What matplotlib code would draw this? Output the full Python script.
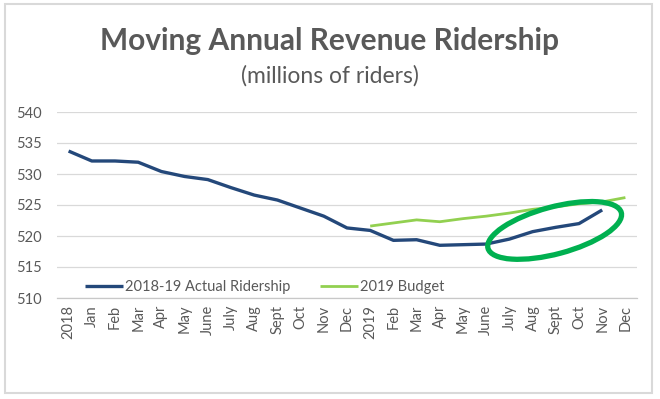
import numpy as np
import matplotlib; matplotlib.use('Agg')
import matplotlib.pyplot as plt
from matplotlib.patches import Ellipse, Rectangle
from matplotlib.transforms import IdentityTransform

plt.rcParams['font.family'] = ['Lato', 'DejaVu Sans']

# x categories (Excel category axis)
months = ['2018', 'Jan', 'Feb', 'Mar', 'Apr', 'May', 'June', 'July', 'Aug',
          'Sept', 'Oct', 'Nov', 'Dec', '2019', 'Feb', 'Mar', 'Apr', 'May',
          'June', 'July', 'Aug', 'Sept', 'Oct', 'Nov', 'Dec']

# millions of riders
actual = [533.7, 532.1, 532.1, 531.9, 530.4, 529.6, 529.1, 527.8, 526.6,
          525.8, 524.5, 523.2, 521.3, 520.9, 519.3, 519.4, 518.5, 518.6,
          518.7, 519.5, 520.7, 521.4, 522.0, 524.2]
budget = [521.6, 522.1, 522.6, 522.3, 522.8, 523.2, 523.7, 524.3, 524.7,
          525.2, 525.5, 526.2]
budget_start = months.index('2019')

GREY_TXT = '#595959'
GRID = '#d9d9d9'

W, H = 660, 399
fig = plt.figure(figsize=(W / 100, H / 100), dpi=100)
ax = fig.add_axes([57 / W, 1 - 298 / H, 580 / W, 186 / H])

x_act = np.arange(len(actual))
x_bud = np.arange(budget_start, budget_start + len(budget))
ax.plot(x_act, actual, color='#24487a', lw=2.4, solid_capstyle='butt',
        label='2018-19 Actual Ridership', zorder=3)
ax.plot(x_bud, budget, color='#92d050', lw=2.0, solid_capstyle='butt',
        label='2019 Budget', zorder=2)

ax.set_xlim(-0.5, len(months) - 0.5)
ax.set_ylim(510, 540)
ax.set_yticks(np.arange(510, 541, 5))
ax.set_xticks(np.arange(len(months)))
ax.set_xticklabels(months, rotation=90)
ax.tick_params(length=0, labelsize=10.5, labelcolor=GREY_TXT)
ax.tick_params(axis='y', pad=11)
ax.tick_params(axis='x', pad=5)
ax.grid(axis='y', color=GRID, lw=0.9)
ax.set_axisbelow(True)
for s in ['top', 'right', 'left']:
    ax.spines[s].set_visible(False)
ax.spines['bottom'].set_color('#c8c8c8')
ax.spines['bottom'].set_linewidth(0.9)

leg = ax.legend(loc='center left', bbox_to_anchor=((85 - 57) / 580, (298 - 287) / 186),
                ncol=2, frameon=False, fontsize=10.5, handlelength=2.6,
                handletextpad=0.15, columnspacing=2.0, borderpad=0,
                borderaxespad=0)
for t in leg.get_texts():
    t.set_color(GREY_TXT)

# titles
fig.text(0.5, 1 - 50 / H, 'Moving Annual Revenue Ridership', ha='center',
         va='baseline', fontsize=21.5, fontweight='bold', color=GREY_TXT)
fig.text(0.5, 1 - 83 / H, '(millions of riders)', ha='center',
         va='baseline', fontsize=16.5, color=GREY_TXT)

# hand-drawn highlight ellipse around the recent months
cx, cy = ax.transData.transform((20.95, 520.9))
ring = Ellipse((cx, cy), width=138, height=47, angle=15, fill=False,
               edgecolor='#00b050', lw=3.8, transform=IdentityTransform(),
               zorder=5)
fig.patches.append(ring)
ring.set_figure(fig)

# outer chart border
fig.patches.append(Rectangle((5 / W, 1 - 393 / H), 647 / W, 389 / H,
                             transform=fig.transFigure, fill=False,
                             edgecolor=GRID, lw=1.5))

fig.savefig('out.png', dpi=100)
